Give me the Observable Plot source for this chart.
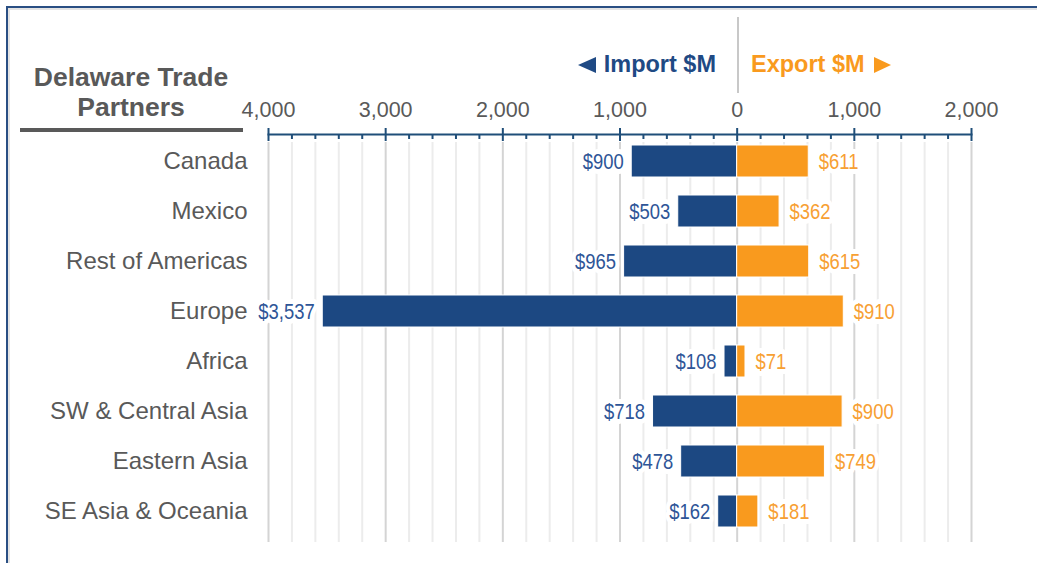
<!DOCTYPE html>
<html>
<head>
<meta charset="utf-8">
<script src="https://cdn.jsdelivr.net/npm/d3@7"></script>
<script src="https://cdn.jsdelivr.net/npm/@observablehq/plot@0.6"></script>
<style>
  html, body { margin: 0; padding: 0; background: #fff; overflow: hidden; }
  #wrap { position: relative; width: 1037px; height: 563px; }
  #frame { position: absolute; left: 6px; top: 6px; width: 1100px; height: 700px;
           border-top: 2px solid #2A4F83; border-left: 2px solid #2A4F83;
           box-shadow: inset 2px 2px 0 #e4e4e4; }
  #chart { position: absolute; left: 0; top: 0; }
  .title { position: absolute; left: 19px; width: 224px; top: 62px; text-align: center;
           font: bold 26.5px "Liberation Sans", Arial, sans-serif; color: #595959; line-height: 30px; }
  .rule { position: absolute; left: 20px; top: 128px; width: 223px; height: 4px; background: #595959; }
  .leg { position: absolute; top: 51px; font: bold 23.5px "Liberation Sans", Arial, sans-serif; white-space: nowrap; }
  .tl { display: inline-block; width: 0; height: 0; border-top: 8px solid transparent; border-bottom: 8px solid transparent;
        border-right: 18px solid #1F4A84; margin-right: 8px; vertical-align: -1px; }
  .tr { display: inline-block; width: 0; height: 0; border-top: 8px solid transparent; border-bottom: 8px solid transparent;
        border-left: 17px solid #F99A1E; margin-left: 9px; vertical-align: -1px; }
  .imp { right: calc(1037px - 716px); color: #1F4A84; }
  .exp { left: 751px; color: #F99A1E; }
  .sep { position: absolute; left: 737px; top: 17px; width: 2px; height: 76px; background: #c8c8c8; }
</style>
</head>
<body>
<div id="wrap">
  <div id="frame"></div>
  <div id="chart"></div>
  <div class="title">Delaware Trade<br>Partners</div>
  <div class="rule"></div>
  <div class="sep"></div>
  <div class="leg imp"><span class="tl"></span>Import $M</div>
  <div class="leg exp">Export $M<span class="tr"></span></div>
</div>
<script>
const regions = ["Canada", "Mexico", "Rest of Americas", "Europe", "Africa", "SW & Central Asia", "Eastern Asia", "SE Asia & Oceania"];
const imports = [900, 503, 965, 3537, 108, 718, 478, 162];
const exports = [611, 362, 615, 910, 71, 900, 749, 181];
const majorTicks = [-4000, -3000, -2000, -1000, 0, 1000, 2000];
const tickLabels = ["4,000", "3,000", "2,000", "1,000", "0", "1,000", "2,000"];
const minorTicks = d3.range(-4000, 2001, 200).filter(v => v % 1000 !== 0);

const rows = regions.map((r, i) => ({region: r, imp: imports[i], exp: exports[i]}));
const fmt = d3.format("$,");

const W = 1037, H = 563, mTop = 134, mBottom = 21;
const plotH = H - mTop - mBottom;
const blue = "#1C4882", orange = "#F99A1E";

const chart = Plot.plot({
  width: W,
  height: H,
  marginLeft: 268,
  marginRight: 66,
  marginTop: mTop,
  marginBottom: mBottom,
  style: {fontFamily: "'Liberation Sans', Arial, sans-serif", background: "transparent"},
  x: {domain: [-4000, 2000]},
  y: {domain: regions, range: [133.2, 537.8], paddingInner: 0.37, paddingOuter: 0.185},
  marks: [
    Plot.ruleX(minorTicks, {x: d => d, stroke: "#ececec", strokeWidth: 2, insetTop: 8}),
    Plot.ruleX(majorTicks, {x: d => d, stroke: "#d4d4d4", strokeWidth: 2, insetTop: 8}),
    Plot.barX(rows, {y: "region", x1: d => -d.imp, x2: 0, fill: blue, stroke: "#ffffff", strokeWidth: 1}),
    Plot.barX(rows, {y: "region", x1: 0, x2: "exp", fill: orange, stroke: "#ffffff", strokeWidth: 1}),
    Plot.text(rows, {y: "region", x: d => -d.imp, text: d => fmt(d.imp), textAnchor: "end", dx: -8,
      fill: "#2E5597", stroke: "white", strokeWidth: 10, fontSize: 22.5, className: "vlab"}),
    Plot.text(rows, {y: "region", x: "exp", text: d => fmt(d.exp), textAnchor: "start", dx: 10,
      fill: "#F7A033", stroke: "white", strokeWidth: 10, fontSize: 22.5, className: "vlab"}),
    Plot.frame({anchor: "top", stroke: "#1F4E79", strokeWidth: 2}),
    Plot.ruleX(majorTicks, {x: d => d, stroke: "#1F4E79", strokeWidth: 2, insetTop: -6, insetBottom: plotH - 7}),
    Plot.ruleX(minorTicks, {x: d => d, stroke: "#1F4E79", strokeWidth: 2, insetTop: 0, insetBottom: plotH - 5}),
    Plot.axisX(majorTicks, {anchor: "top", tickSize: 0, tickPadding: 18, fontSize: 21.5, fill: "#595959",
      tickFormat: d => tickLabels[majorTicks.indexOf(d)], label: null}),
    Plot.axisY({anchor: "left", tickSize: 0, tickPadding: 21, fontSize: 24, fill: "#595959", label: null})
  ]
});
document.getElementById("chart").appendChild(chart);

// narrow the value labels horizontally (condensed look)
chart.querySelectorAll("g.vlab text").forEach(t => {
  const tr = t.getAttribute("transform");
  if (tr) {
    t.setAttribute("transform", tr + " scale(0.82,1)");
  } else {
    const x = +t.getAttribute("x") || 0, y = +t.getAttribute("y") || 0;
    t.setAttribute("transform", `translate(${x},${y}) scale(0.82,1)`);
    t.removeAttribute("x"); t.removeAttribute("y");
  }
});
</script>
</body>
</html>
